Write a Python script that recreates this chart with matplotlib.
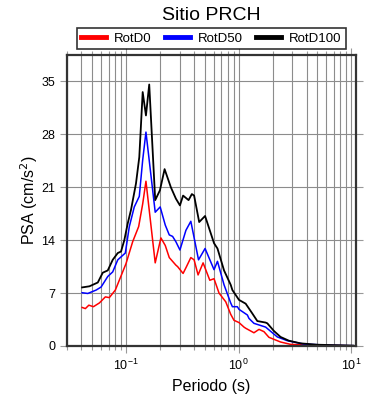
import matplotlib
matplotlib.use("Agg")
import matplotlib.pyplot as plt
from matplotlib.ticker import LogLocator, MultipleLocator, NullFormatter

plt.rcParams['font.family'] = ['Liberation Sans', 'DejaVu Sans']

# periodos (s) y PSA (cm/s^2)
t_d100 = [0.0408, 0.0474, 0.0562, 0.0622, 0.0689, 0.0762, 0.0845, 0.0903, 0.0966,
          0.1035, 0.1107, 0.1226, 0.1312, 0.1406, 0.1503, 0.1607, 0.1816, 0.200,
          0.220, 0.250, 0.277, 0.301, 0.321, 0.359, 0.384, 0.402, 0.446, 0.503,
          0.604, 0.648, 0.741, 0.849, 0.879, 1.006, 1.153, 1.321, 1.463, 1.734,
          1.795, 2.05, 2.35, 2.79, 3.54, 4.97, 10.4]
psa_d100 = [7.75, 7.9, 8.4, 9.7, 10.0, 11.4, 12.3, 12.5, 14.0,
            16.2, 18.0, 21.5, 25.0, 33.6, 30.5, 34.6, 19.3, 20.6,
            23.4, 21.0, 19.5, 18.6, 19.9, 19.3, 20.1, 19.9, 16.4, 17.2,
            13.6, 12.9, 10.0, 8.1, 7.4, 6.1, 5.6, 4.3, 3.3, 3.1,
            3.0, 2.0, 1.2, 0.7, 0.35, 0.17, 0.05]

t_d50 = [0.0408, 0.0458, 0.0543, 0.0601, 0.0689, 0.0762, 0.0845, 0.0986, 0.107,
         0.1184, 0.1312, 0.1406, 0.1503, 0.1816, 0.201, 0.223, 0.242, 0.259,
         0.277, 0.301, 0.340, 0.376, 0.440, 0.503, 0.604, 0.648, 0.741, 0.849,
         0.879, 0.973, 1.006, 1.194, 1.233, 1.365, 1.734, 2.20, 2.70, 3.78,
         6.5, 10.4]
psa_d50 = [7.05, 6.95, 7.4, 7.8, 9.2, 9.8, 11.4, 12.3, 15.8,
           18.4, 19.8, 24.6, 28.3, 17.7, 18.4, 16.0, 14.7, 14.5,
           13.8, 12.7, 15.3, 16.5, 11.4, 12.9, 10.1, 11.2, 8.1, 5.7,
           5.2, 5.2, 4.85, 4.1, 3.65, 3.0, 2.5, 1.2, 0.7, 0.26,
           0.09, 0.04]

t_d0 = [0.0408, 0.0436, 0.0468, 0.0514, 0.0581, 0.0656, 0.0711, 0.0804, 0.100,
        0.1146, 0.1295, 0.1406, 0.1503, 0.1816, 0.204, 0.223, 0.242, 0.277,
        0.287, 0.321, 0.344, 0.376, 0.402, 0.436, 0.483, 0.554, 0.604, 0.669,
        0.767, 0.849, 0.908, 1.006, 1.114, 1.153, 1.365, 1.514, 1.675, 1.854,
        2.35, 2.88, 4.64, 10.4]
psa_d0 = [5.1, 4.95, 5.4, 5.2, 5.7, 6.5, 6.4, 7.4, 10.9,
          13.8, 15.8, 18.8, 21.8, 11.0, 14.3, 13.3, 11.7, 10.7,
          10.5, 9.6, 10.5, 11.7, 11.4, 9.4, 11.0, 8.7, 8.9, 7.0,
          5.85, 4.2, 3.4, 3.1, 2.5, 2.35, 1.75, 2.2, 1.9, 1.15,
          0.53, 0.22, 0.09, 0.03]

fig = plt.figure(figsize=(3.9, 4.0), dpi=100)
ax = fig.add_axes([0.172, 0.135, 0.741, 0.7275])

ax.plot(t_d0, psa_d0, color='red', lw=1.1, label='RotD0')
ax.plot(t_d50, psa_d50, color='blue', lw=1.1, label='RotD50')
ax.plot(t_d100, psa_d100, color='black', lw=1.3, label='RotD100')

ax.set_xscale('log')
ax.set_xlim(0.03, 11)
ax.set_ylim(0, 38.5)
ax.yaxis.set_major_locator(MultipleLocator(7))
ax.xaxis.set_major_locator(LogLocator(base=10))
ax.xaxis.set_minor_locator(LogLocator(base=10, subs=range(2, 10)))
ax.xaxis.set_minor_formatter(NullFormatter())

ax.grid(True, which='both', axis='x', color='#8c8c8c', lw=0.8)
ax.grid(True, which='major', axis='y', color='#8c8c8c', lw=0.8)
ax.set_axisbelow(True)

for s in ax.spines.values():
    s.set_linewidth(1.6)
    s.set_color('#333333')

ax.tick_params(which='both', direction='out', color='#999999', width=0.8,
               top=True, right=True, labelsize=9)
ax.tick_params(which='major', length=5)
ax.tick_params(which='minor', length=3)

ax.set_xlabel('Periodo (s)', fontsize=11.5, labelpad=4)
ax.set_ylabel('PSA (cm/s$^2$)', fontsize=11.5, labelpad=1)
ax.set_title('Sitio PRCH', fontsize=14, pad=25)

leg = ax.legend(ncol=3, loc='lower center', bbox_to_anchor=(0.5, 1.01),
                fontsize=9.5, frameon=True, fancybox=False, handlelength=1.9,
                handletextpad=0.6, columnspacing=1.0, borderpad=0.35,
                borderaxespad=0.2)
leg.get_frame().set_edgecolor('black')
leg.get_frame().set_linewidth(1.2)
for h in leg.get_lines():
    h.set_linewidth(3.5)

fig.savefig('out.png', dpi=100)
